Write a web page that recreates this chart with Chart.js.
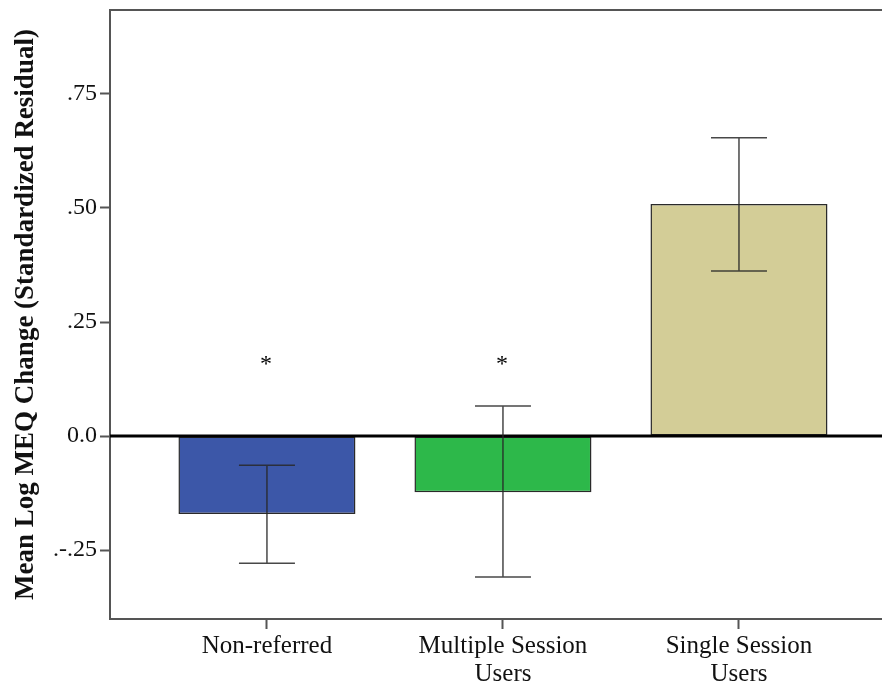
<!DOCTYPE html>
<html>
<head>
<meta charset="utf-8">
<script src="https://cdn.jsdelivr.net/npm/chart.js@4"></script>
<style>
  body { margin: 0; background: #fff; }
  #chart_div { width: 882px; height: 685px; position: relative; }
</style>
</head>
<body>
<div id="chart_div"><canvas id="meq_chart"></canvas></div>
<script>
// data
const categories = ['Non-referred', ['Multiple Session', 'Users'], ['Single Session', 'Users']];
const mean_values = [-0.171, -0.123, 0.509];
const err_low = [-0.279, -0.309, 0.362];
const err_high = [-0.064, 0.066, 0.654];
const star_marks = ['*', '*', ''];
const star_levels = [0.166, 0.166, null];
const y_tick_values = [-0.25, 0, 0.25, 0.5, 0.75];
const y_tick_labels = ['.-.25', '0.0', '.25', '.50', '.75'];
const bar_colors = ['#3c57a8', '#2db84a', '#d3cd97'];

const serif = '"Liberation Serif", "Times New Roman", serif';

const extras_plugin = {
    id: 'extras',
    afterDatasetsDraw(chart) {
        const ctx = chart.ctx;
        const area = chart.chartArea;
        const x = chart.scales.x;
        const y = chart.scales.y;
        ctx.save();
        // top frame line
        ctx.strokeStyle = '#555';
        ctx.lineWidth = 2;
        ctx.beginPath();
        ctx.moveTo(area.left, area.top);
        ctx.lineTo(area.right, area.top);
        ctx.stroke();
        // zero line
        const y0 = y.getPixelForValue(0);
        ctx.strokeStyle = '#000';
        ctx.lineWidth = 3;
        ctx.beginPath();
        ctx.moveTo(area.left, y0);
        ctx.lineTo(area.right, y0);
        ctx.stroke();
        // error bars
        ctx.strokeStyle = 'rgba(40,40,40,0.85)';
        ctx.lineWidth = 1.5;
        for (let i = 0; i < mean_values.length; i++) {
            const cx = x.getPixelForValue(i + 1);
            const lo = y.getPixelForValue(err_low[i]);
            const hi = y.getPixelForValue(err_high[i]);
            const cap = 28;
            ctx.beginPath();
            ctx.moveTo(cx, lo); ctx.lineTo(cx, hi);
            ctx.moveTo(cx - cap, lo); ctx.lineTo(cx + cap, lo);
            ctx.moveTo(cx - cap, hi); ctx.lineTo(cx + cap, hi);
            ctx.stroke();
        }
        // significance stars
        ctx.fillStyle = '#000';
        ctx.font = '24px ' + serif;
        ctx.textAlign = 'center';
        ctx.textBaseline = 'middle';
        for (let i = 0; i < star_marks.length; i++) {
            if (star_levels[i] === null) continue;
            ctx.fillText(star_marks[i], x.getPixelForValue(i + 1) - 1, y.getPixelForValue(star_levels[i]) + 4);
        }
        ctx.restore();
    }
};

const chart_data = {
    datasets: [{
        data: mean_values.map((v, i) => ({ x: i + 1, y: v })),
        backgroundColor: bar_colors,
        borderColor: '#2a2a2a',
        borderWidth: 1.5,
        borderSkipped: false,
        barPercentage: 0.75,
        categoryPercentage: 1,
    }]
};

const chart_config = {
    type: 'bar',
    data: chart_data,
    options: {
        responsive: true,
        maintainAspectRatio: false,
        animation: false,
        layout: { padding: { top: 10, right: 0, left: 0, bottom: 0 } },
        plugins: { legend: { display: false }, tooltip: { enabled: false } },
        scales: {
            x: {
                type: 'linear',
                offset: false,
                min: 0.335,
                max: 3.606,
                afterBuildTicks: (scale) => { scale.ticks = [1, 2, 3].map(v => ({ value: v })); },
                afterFit: (scale) => { scale.height = 66; scale.paddingLeft = 0; scale.paddingRight = 0; },
                grid: { offset: false, drawOnChartArea: false, tickLength: 10, tickColor: '#555', tickWidth: 2 },
                border: { color: '#555', width: 2 },
                ticks: {
                    color: '#111',
                    padding: 3,
                    maxRotation: 0,
                    autoSkip: false,
                    font: { family: serif, size: 25, lineHeight: 1.12 },
                    callback: (v) => categories[v - 1],
                },
            },
            y: {
                min: -0.401,
                max: 0.934,
                afterBuildTicks: (scale) => { scale.ticks = y_tick_values.map(v => ({ value: v })); },
                afterFit: (scale) => { scale.width = 110; scale.paddingTop = 0; scale.paddingBottom = 0; },
                grid: { drawOnChartArea: false, tickLength: 10, tickColor: '#555', tickWidth: 2 },
                border: { color: '#555', width: 2 },
                ticks: {
                    color: '#111',
                    padding: 3,
                    font: { family: serif, size: 24 },
                    callback: (v) => y_tick_labels[y_tick_values.indexOf(v)],
                },
                title: {
                    display: true,
                    text: 'Mean Log MEQ Change (Standardized Residual)',
                    color: '#111',
                    font: { family: serif, size: 27, weight: 'bold' },
                    padding: { top: 10, bottom: 0 },
                },
            },
        },
    },
    plugins: [extras_plugin],
};

const chart = new Chart(document.getElementById('meq_chart'), chart_config);
</script>
</body>
</html>
